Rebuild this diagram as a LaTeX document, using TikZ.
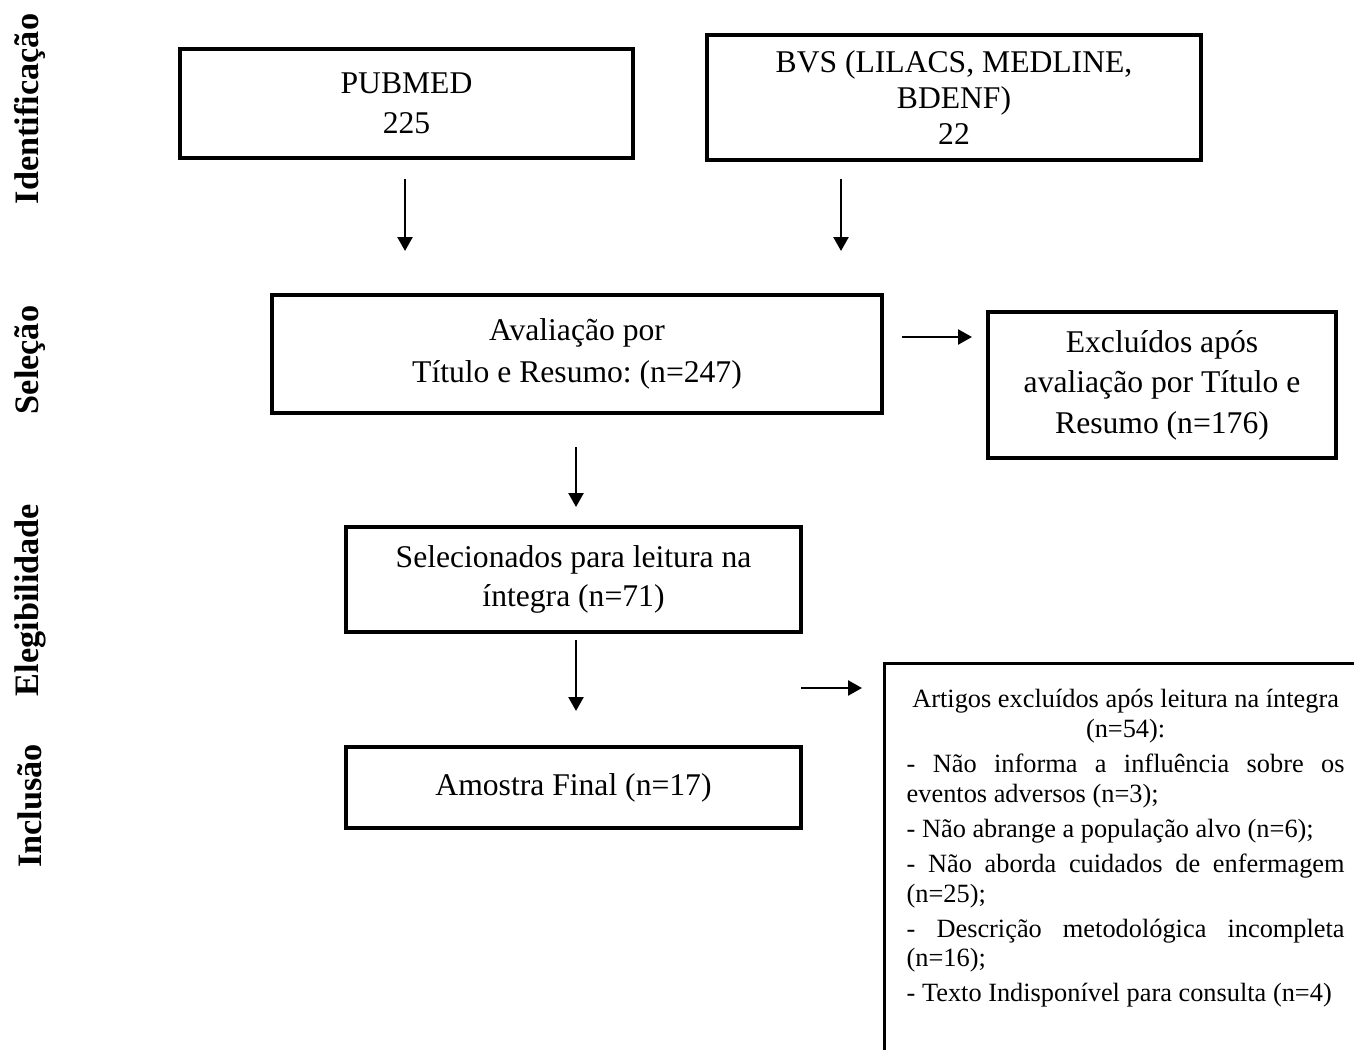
\documentclass[tikz,border=0pt]{standalone}
\usepackage{fontspec}
\setmainfont{Liberation Serif}
\usepackage{tikz}
\usetikzlibrary{positioning,arrows.meta}
\frenchspacing

\begin{document}
\begin{tikzpicture}[x=0.02cm,y=-0.02cm]
    \useasboundingbox (0,0) rectangle (1354,1050);
    \clip (0,0) rectangle (1354,1050);
    %%%%% THE PHASES
    \begin{scope}[every node/.style={rotate=90,inner sep=0pt,font=\fontsize{19.5}{22}\selectfont\bfseries}]
      \node (IDENT) at (30,109) {Identificação};
      \node (SELE) at (30,360) {Seleção};
      \node (ELEG) at (30,600) {Elegibilidade};
      \node (INCL) at (30,806) {Inclusão};
    \end{scope}
    %%%%% THE BOXES
    \begin{scope}[every node/.style={draw,line width=1.9pt,inner sep=0pt,align=center,
        font=\fontsize{18}{22}\selectfont}]
      \node[minimum width=9.06cm,minimum height=2.18cm,font=\fontsize{18}{23}\selectfont] (PUBMED) at (406.5,103.5) {PUBMED\\225};
      \node[minimum width=9.88cm,minimum height=2.5cm,font=\fontsize{18}{20.5}\selectfont] (BVS) at (954,97.5) {BVS (LILACS, MEDLINE,\\BDENF)\\22};
      \node[minimum width=12.2cm,minimum height=2.36cm,font=\fontsize{18}{24}\selectfont] (AVAL) at (577,354)
        {Avaliação por\\Título e Resumo: (n=247)};
      \node[minimum width=6.96cm,minimum height=2.92cm,font=\fontsize{18}{23}\selectfont] (EXCL) at (1162,385)
        {Excluídos após\\avaliação por Título e\\Resumo (n=176)};
      \node[minimum width=9.1cm,minimum height=2.1cm] (LEIT) at (573.5,579.5) {Selecionados para leitura na\\íntegra (n=71)};
      \node[minimum width=9.1cm,minimum height=1.62cm] (FINAL) at (573.5,787.5) {Amostra Final (n=17)};
      % Excluded after full reading, open at the page edges
      \node[anchor=north west,text width=8.76cm,inner xsep=0.44cm,inner ysep=0.52cm,align=justify,
        font=\fontsize{15}{17}\selectfont] (EXCLT) at (883,662) {\parindent=0pt\parskip=0.1cm
        {\centering Artigos excluídos após leitura na íntegra\\(n=54):\par}
        - Não informa a influência sobre os\linebreak eventos adversos (n=3);\par
        - Não abrange a população alvo (n=6);\par
        - Não aborda cuidados de enfermagem\linebreak (n=25);\par
        - Descrição metodológica incompleta\linebreak (n=16);\par
        - Texto Indisponível para consulta~(n=4)\par
        \rule{0pt}{2.5cm}};
    \end{scope}
    %%%%% THE ARROWS
    \begin{scope}[every path/.style={line width=1.4pt,-{Triangle[length=0.28cm,width=0.3cm]}}]
      \coordinate (PUBMED-a) at (405,179);  \coordinate (PUBMED-b) at (405,251);
      \coordinate (BVS-a) at (841,179);     \coordinate (BVS-b) at (841,251);
      \coordinate (AVAL-a) at (902,337);    \coordinate (AVAL-b) at (972,337);
      \coordinate (AVAL-c) at (576,447);    \coordinate (AVAL-d) at (576,507);
      \coordinate (LEIT-a) at (576,640);    \coordinate (LEIT-b) at (576,711);
      \coordinate (LEIT-c) at (801,688);    \coordinate (LEIT-d) at (862,688);
      \draw (PUBMED-a) -- (PUBMED-b);
      \draw (BVS-a) -- (BVS-b);
      \draw (AVAL-a) -- (AVAL-b);
      \draw (AVAL-c) -- (AVAL-d);
      \draw (LEIT-a) -- (LEIT-b);
      \draw (LEIT-c) -- (LEIT-d);
    \end{scope}
\end{tikzpicture}
\end{document}
